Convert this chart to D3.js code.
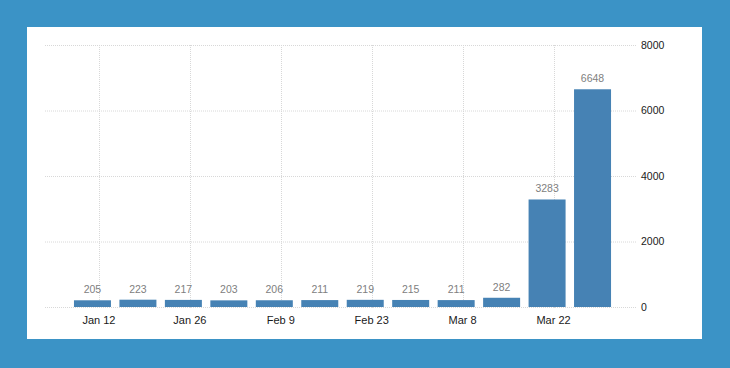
<!DOCTYPE html>
<html>
<head>
<meta charset="utf-8">
<script src="https://cdn.jsdelivr.net/npm/d3@7"></script>
<style>
  html, body { margin: 0; padding: 0; background: #3b93c6; }
  svg { display: block; }
</style>
</head>
<body>
<svg id="chart" width="730" height="368"></svg>
<script>
// Weekly data (week ending dates, 2020)
const weeks = ["2020-01-11","2020-01-18","2020-01-25","2020-02-01","2020-02-08","2020-02-15",
               "2020-02-22","2020-02-29","2020-03-07","2020-03-14","2020-03-21","2020-03-28"];
const values = [205, 223, 217, 203, 206, 211, 219, 215, 211, 282, 3283, 6648];
const xTickDates = ["2020-01-12","2020-01-26","2020-02-09","2020-02-23","2020-03-08","2020-03-22"];
const yTicks = [0, 2000, 4000, 6000, 8000];

const parse = d3.utcParse("%Y-%m-%d");
const data = weeks.map((w, i) => ({ date: parse(w), value: values[i] }));

const svg = d3.select("#chart");

// background and white panel
svg.append("rect").attr("width", 730).attr("height", 368).attr("fill", "#3b93c6");
svg.append("rect").attr("x", 27).attr("y", 27).attr("width", 675).attr("height", 312).attr("fill", "#ffffff");

const x = d3.scaleUtc()
  .domain([parse("2020-01-04"), parse("2020-04-04")])
  .range([47, 638]);
const y = d3.scaleLinear().domain([0, 8000]).range([307, 45]);

const barW = 37;

// horizontal gridlines
svg.append("g").selectAll("line").data(yTicks).join("line")
  .attr("x1", 45).attr("x2", 637)
  .attr("y1", d => y(d) + 0.5).attr("y2", d => y(d) + 0.5)
  .attr("stroke", "#d8d8d8").attr("stroke-width", 1)
  .attr("stroke-dasharray", "1,1");

// vertical gridlines
svg.append("g").selectAll("line").data(xTickDates.map(parse)).join("line")
  .attr("x1", d => Math.round(x(d)) + 0.5).attr("x2", d => Math.round(x(d)) + 0.5)
  .attr("y1", 45).attr("y2", 308)
  .attr("stroke", "#d8d8d8").attr("stroke-width", 1)
  .attr("stroke-dasharray", "1,1");

// bars
svg.append("g").selectAll("rect").data(data).join("rect")
  .attr("x", d => x(d.date) - barW / 2)
  .attr("y", d => y(d.value))
  .attr("width", barW)
  .attr("height", d => y(0) - y(d.value))
  .attr("fill", "#4682b4");

// value labels
svg.append("g").selectAll("text").data(data).join("text")
  .attr("x", d => x(d.date))
  .attr("y", d => y(d.value) - 7)
  .attr("text-anchor", "middle")
  .attr("font-family", "Liberation Sans, Arial, sans-serif")
  .attr("font-size", 10.5)
  .attr("fill", "#808080")
  .text(d => d.value);

// x tick labels
const fmt = d3.utcFormat("%b %-d");
svg.append("g").selectAll("text").data(xTickDates.map(parse)).join("text")
  .attr("x", d => x(d))
  .attr("y", 324)
  .attr("text-anchor", "middle")
  .attr("font-family", "Liberation Sans, Arial, sans-serif")
  .attr("font-size", 11)
  .attr("fill", "#1a1a1a")
  .text(d => fmt(d));

// y tick labels (right)
svg.append("g").selectAll("text").data(yTicks).join("text")
  .attr("x", 641)
  .attr("y", d => y(d))
  .attr("dy", "0.35em")
  .attr("text-anchor", "start")
  .attr("font-family", "Liberation Sans, Arial, sans-serif")
  .attr("font-size", 10.5)
  .attr("fill", "#1a1a1a")
  .text(d => d);
</script>
</body>
</html>
